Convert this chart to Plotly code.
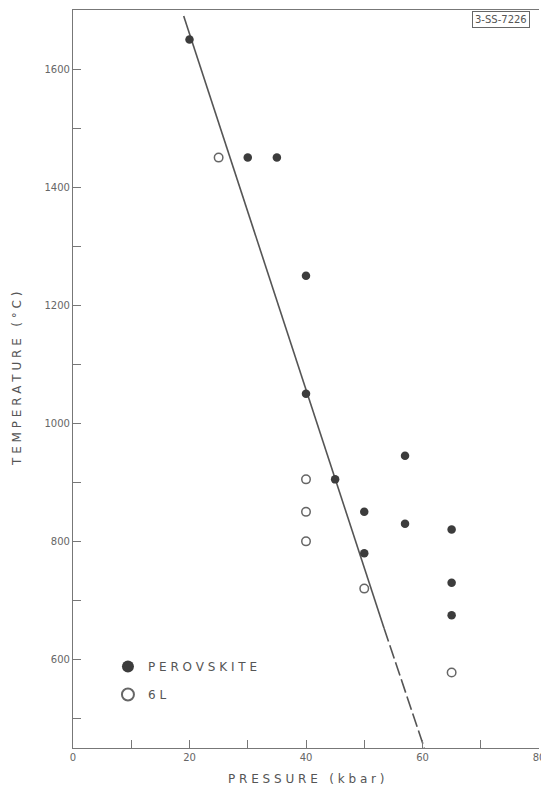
import plotly.graph_objects as go

# Data
perov_p = [20, 30, 35, 40, 40, 45, 50, 50, 57, 57, 65, 65, 65]
perov_t = [1650, 1450, 1450, 1250, 1050, 905, 850, 780, 945, 830, 820, 730, 675]
sixl_p = [25, 40, 40, 40, 50, 65]
sixl_t = [1450, 905, 850, 800, 720, 578]
line_solid_p = [19.0, 53.4]
line_solid_t = [1690, 653]
line_dash_p = [53.4, 60.3]
line_dash_t = [653, 450]

gray = "#555555"
dark = "#3c3c3c"
font = "DejaVu Sans"

fig = go.Figure()
fig.add_trace(go.Scatter(x=line_solid_p, y=line_solid_t, mode="lines",
                         line=dict(color=gray, width=1.6), showlegend=False, hoverinfo="skip"))
fig.add_trace(go.Scatter(x=line_dash_p, y=line_dash_t, mode="lines",
                         line=dict(color=gray, width=1.6, dash="14px,4px"), showlegend=False, hoverinfo="skip"))
fig.add_trace(go.Scatter(x=perov_p, y=perov_t, mode="markers", name="P E R O V S K I T E",
                         legendgroup="a",
                         marker=dict(symbol="circle", size=8.5, color=dark)))
fig.add_trace(go.Scatter(x=sixl_p, y=sixl_t, mode="markers", name="6 L",
                         legendgroup="b",
                         marker=dict(symbol="circle-open", size=8.5, color="#666666",
                                     line=dict(width=1.5, color="#666666"))))

# The page body adds an 8px offset, so the figure is sized to fit inside the window.
fig.update_layout(
    width=540, height=780,
    margin=dict(l=65, r=9, t=2, b=40, autoexpand=False),
    paper_bgcolor="white", plot_bgcolor="white",
    font=dict(family=font, color="#666666", size=10),
    legend=dict(x=0.075, y=0.13, xanchor="left", yanchor="top",
                bgcolor="rgba(0,0,0,0)", font=dict(size=12, color="#555555"),
                itemsizing="constant", tracegroupgap=9),
    xaxis=dict(range=[0, 80], tickvals=[0, 10, 20, 30, 40, 50, 60, 70, 80],
               ticktext=["0", "", "20", "", "40", "", "60", "", "80"],
               ticks="inside", ticklen=8, tickcolor="#777777", ticklabeloverflow="allow",
               showline=True, linecolor="#777777", linewidth=1.2, mirror=True,
               showgrid=False, zeroline=False, automargin=False),
    yaxis=dict(range=[450, 1700],
               tickvals=[500, 600, 700, 800, 900, 1000, 1100, 1200, 1300, 1400, 1500, 1600],
               ticktext=["", "600", "", "800", "", "1000", "", "1200", "", "1400", "", "1600"],
               ticks="inside", ticklen=8, tickcolor="#777777",
               showline=True, linecolor="#777777", linewidth=1.2, mirror=False,
               showgrid=False, zeroline=False, automargin=False),
)

fig.add_annotation(xref="paper", yref="paper", x=0.5, y=0, xanchor="center", yanchor="top",
                   yshift=-22, text="P R E S S U R E   ( k b a r )", showarrow=False,
                   font=dict(size=12, color="#555555"))
fig.add_annotation(xref="paper", yref="paper", x=0, y=0.5, xanchor="center", yanchor="middle",
                   xshift=-56, text="T E M P E R A T U R E   ( ° C )", showarrow=False, textangle=-90,
                   font=dict(size=12, color="#555555"))
fig.add_annotation(xref="paper", yref="paper", x=0.98, y=0.999, xanchor="right", yanchor="top",
                   text="3-SS-7226", showarrow=False, font=dict(size=10, color="#555555"),
                   bordercolor="#666666", borderwidth=1, borderpad=2, bgcolor="white")

fig.write_html("out.html")
